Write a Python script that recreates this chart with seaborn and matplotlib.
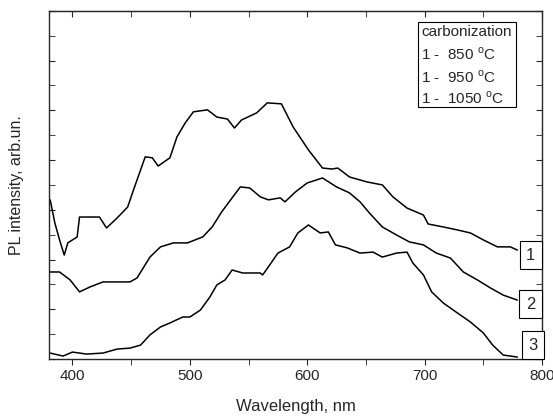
import numpy as np
import pandas as pd
import seaborn as sns
import matplotlib.pyplot as plt
from matplotlib.patches import Rectangle
from matplotlib.ticker import MultipleLocator

# values (wavelength in nm, intensity in arb. units)
wl_1 = [381, 385, 389, 393, 396, 404, 406, 413, 423, 429, 438, 447, 452, 458, 462, 468,
        473, 483, 489, 496, 503, 515, 523, 532, 538, 544, 557, 566, 578, 588, 601, 613,
        621, 626, 636, 651, 664, 673, 685, 693, 699, 703, 716, 728, 739, 750, 762, 773, 779]
pl_1 = [6.40, 5.47, 4.79, 4.18, 4.67, 4.91, 5.71, 5.71, 5.71, 5.27, 5.67, 6.11, 6.80, 7.60,
        8.13, 8.09, 7.76, 8.09, 8.93, 9.49, 9.94, 10.02, 9.73, 9.65, 9.29, 9.61, 9.90, 10.30,
        10.26, 9.33, 8.41, 7.68, 7.64, 7.68, 7.32, 7.12, 7.00, 6.52, 6.07, 5.91, 5.79, 5.43,
        5.31, 5.19, 5.07, 4.79, 4.51, 4.51, 4.38]

wl_2 = [381, 389, 398, 406, 415, 426, 438, 449, 455, 466, 475, 486, 498, 511, 519, 527,
        536, 543, 551, 560, 567, 577, 581, 590, 600, 613, 625, 636, 645, 653, 664, 676,
        687, 699, 710, 722, 733, 745, 756, 767, 779]
pl_2 = [3.50, 3.50, 3.18, 2.70, 2.90, 3.10, 3.10, 3.10, 3.26, 4.10, 4.51, 4.67, 4.67, 4.91,
        5.31, 5.91, 6.48, 6.92, 6.88, 6.52, 6.40, 6.48, 6.32, 6.72, 7.08, 7.28, 6.92, 6.68,
        6.32, 5.87, 5.31, 4.99, 4.71, 4.59, 4.26, 4.06, 3.50, 3.18, 2.86, 2.57, 2.37]

wl_3 = [381, 392, 400, 412, 426, 438, 449, 458, 466, 475, 483, 494, 500, 509, 517, 523,
        530, 536, 545, 560, 562, 568, 575, 585, 592, 601, 611, 618, 624, 634, 645, 656,
        664, 676, 685, 690, 699, 706, 716, 728, 739, 750, 758, 767, 779]
pl_3 = [0.24, 0.12, 0.28, 0.20, 0.24, 0.40, 0.44, 0.56, 0.97, 1.29, 1.45, 1.69, 1.69, 1.97,
        2.49, 2.98, 3.18, 3.58, 3.46, 3.46, 3.38, 3.78, 4.26, 4.51, 5.07, 5.39, 5.07, 5.11,
        4.59, 4.47, 4.26, 4.30, 4.10, 4.26, 4.30, 3.86, 3.38, 2.70, 2.25, 1.85, 1.49, 1.05,
        0.56, 0.16, 0.08]

curve_labels = ['1', '2', '3']
label_x = [790.5, 790.5, 792.5]
label_y = [4.18, 2.21, 0.56]
legend_lines = ['carbonization', r'1 -  850 $^{\rm o}$C', r'1 -  950 $^{\rm o}$C',
                r'1 -  1050 $^{\rm o}$C']

sns.set_style('ticks')
plt.rcParams['font.family'] = ['Liberation Sans', 'DejaVu Sans']
plt.rcParams['mathtext.fontset'] = 'custom'
plt.rcParams['mathtext.rm'] = 'Liberation Sans'

fig = plt.figure(figsize=(5.53, 4.17), dpi=100)
ax = fig.add_axes([0.0886, 0.139, 0.8915, 0.835])

for wl, pl in [(wl_1, pl_1), (wl_2, pl_2), (wl_3, pl_3)]:
    df = pd.DataFrame({'wl': wl, 'pl': pl})
    sns.lineplot(data=df, x='wl', y='pl', ax=ax, color='black', linewidth=1.1)

ax.set_xlim(380, 800)
ax.set_ylim(0, 14)
ax.xaxis.set_major_locator(MultipleLocator(100))
ax.xaxis.set_minor_locator(MultipleLocator(50))
ax.yaxis.set_major_locator(MultipleLocator(2))
ax.yaxis.set_minor_locator(MultipleLocator(1))
ax.tick_params(axis='x', which='both', direction='out', length=4, labelsize=11)
ax.tick_params(axis='y', which='both', direction='in', length=4, left=True, right=True,
               labelleft=False)
top = ax.secondary_xaxis('top')
top.xaxis.set_major_locator(MultipleLocator(100))
top.xaxis.set_minor_locator(MultipleLocator(50))
top.tick_params(which='both', direction='in', length=4, labeltop=False)
for s in ax.spines.values():
    s.set_linewidth(1.0)

ax.set_xlabel('Wavelength, nm', fontsize=12, labelpad=11)
ax.set_ylabel('PL intensity, arb.un.', fontsize=11.5, labelpad=18)

for lab, x, y in zip(curve_labels, label_x, label_y):
    ax.text(x, y, lab, fontsize=12, ha='center', va='center', clip_on=False,
            bbox=dict(boxstyle='square,pad=0.4', fc='white', ec='black', lw=0.8))

ax.add_patch(Rectangle((0.748, 0.724), 0.199, 0.244, transform=ax.transAxes,
                       fill=True, fc='white', ec='black', lw=0.8))
for txt, y in zip(legend_lines, [0.938, 0.874, 0.810, 0.750]):
    ax.text(0.755, y, txt, transform=ax.transAxes, fontsize=11, va='center', ha='left')

fig.savefig('out.png', dpi=100)
